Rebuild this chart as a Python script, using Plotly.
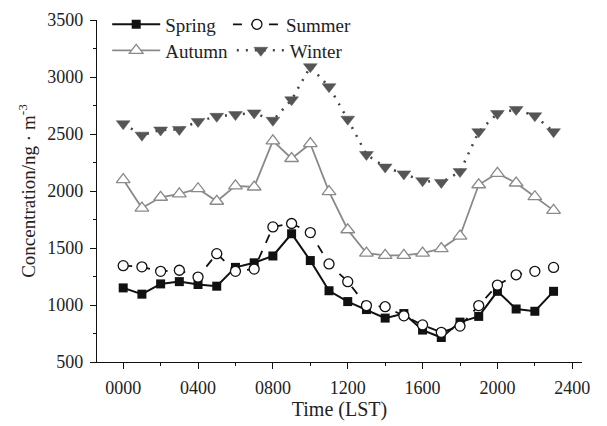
import plotly.graph_objects as go

# Hour of day (local standard time), 0000 .. 2300
hours = [h * 100 for h in range(24)]

spring = [1150, 1095, 1185, 1205, 1180, 1165, 1330, 1370, 1430, 1625, 1390, 1125,
          1030, 960, 885, 925, 780, 715, 850, 900, 1120, 965, 945, 1120]
summer = [1345, 1335, 1295, 1305, 1245, 1450, 1295, 1315, 1685, 1715, 1635, 1360,
          1205, 995, 985, 905, 825, 760, 815, 995, 1175, 1265, 1295, 1330]
autumn = [2100, 1850, 1945, 1975, 2020, 1910, 2045, 2035, 2440, 2285, 2415, 1995,
          1660, 1455, 1435, 1435, 1455, 1495, 1605, 2055, 2155, 2070, 1950, 1830]
winter = [2590, 2490, 2535, 2540, 2610, 2655, 2670, 2685, 2620, 2800, 3090, 2915,
          2630, 2320, 2210, 2150, 2090, 2075, 2170, 2520, 2680, 2715, 2660, 2520]

x_tickvals = [0, 400, 800, 1200, 1600, 2000, 2400]
x_ticktext = ["0000", "0400", "0800", "1200", "1600", "2000", "2400"]
y_tickvals = [500, 1000, 1500, 2000, 2500, 3000, 3500]

FONT = "Liberation Serif"

fig = go.Figure()

fig.add_trace(go.Scatter(
    x=hours, y=spring, name="Spring", mode="lines+markers",
    line=dict(color="#111111", width=2),
    marker=dict(symbol="square", size=9, color="#111111"),
    legend="legend", showlegend=True))

fig.add_trace(go.Scatter(
    x=hours, y=summer, name="Summer", mode="lines+markers",
    line=dict(color="#111111", width=1.8, dash="9px,9px"),
    marker=dict(symbol="circle", size=10, color="white",
                line=dict(color="#111111", width=1.3)),
    legend="legend2", showlegend=True))

fig.add_trace(go.Scatter(
    x=hours, y=autumn, name="Autumn", mode="lines+markers",
    line=dict(color="#8a8a8a", width=1.8),
    marker=dict(symbol="triangle-up", size=12, color="white",
                line=dict(color="#8a8a8a", width=1.3)),
    legend="legend3", showlegend=True))

fig.add_trace(go.Scatter(
    x=hours, y=winter, name="Winter", mode="lines+markers",
    line=dict(color="#444444", width=2.5, dash="2px,7px"),
    marker=dict(symbol="triangle-down", size=12, color="#555555",
                line=dict(color="#555555", width=0.5)),
    legend="legend4", showlegend=True))

axis_common = dict(
    showline=True, linecolor="#111111", linewidth=1.3,
    ticks="outside", ticklen=6, tickwidth=1.2, tickcolor="#111111",
    showgrid=False, zeroline=False,
    tickfont=dict(family=FONT, size=18, color="#222222"),
    mirror=False,
)

# one legend box per series so the 2 x 2 key can be laid out freely
legend_common = dict(
    orientation="h", xanchor="left", yanchor="middle",
    itemwidth=48, bgcolor="rgba(0,0,0,0)",
    font=dict(family=FONT, size=19, color="#222222"))

fig.update_layout(
    width=607, height=426,
    showlegend=True,
    margin=dict(l=97, r=25, t=20, b=64, autoexpand=False),
    paper_bgcolor="white", plot_bgcolor="white",
    font=dict(family=FONT, size=18, color="#222222"),
    xaxis=dict(
        range=[-140, 2452], tickmode="array",
        tickvals=x_tickvals, ticktext=x_ticktext,
        minor=dict(dtick=200, tick0=0, ticks="outside", ticklen=3,
                   tickcolor="#111111", tickwidth=1.2),
        ticklabelstandoff=3,
        title=dict(text="Time (LST)", font=dict(family=FONT, size=20), standoff=4),
        **axis_common),
    yaxis=dict(
        range=[500, 3500], tickmode="array", tickvals=y_tickvals,
        minor=dict(dtick=250, tick0=500, ticks="outside", ticklen=3,
                   tickcolor="#111111", tickwidth=1.2),
        ticklabelstandoff=3,
        title=dict(text="Concentration/ng · m<sup>-3</sup>",
                   font=dict(family=FONT, size=19), standoff=6),
        **axis_common),
    legend=dict(x=0.021, y=0.987, **legend_common),
    legend2=dict(x=0.27, y=0.987, **legend_common),
    legend3=dict(x=0.021, y=0.911, **legend_common),
    legend4=dict(x=0.278, y=0.911, **legend_common),
)

fig.write_html("out.html")
